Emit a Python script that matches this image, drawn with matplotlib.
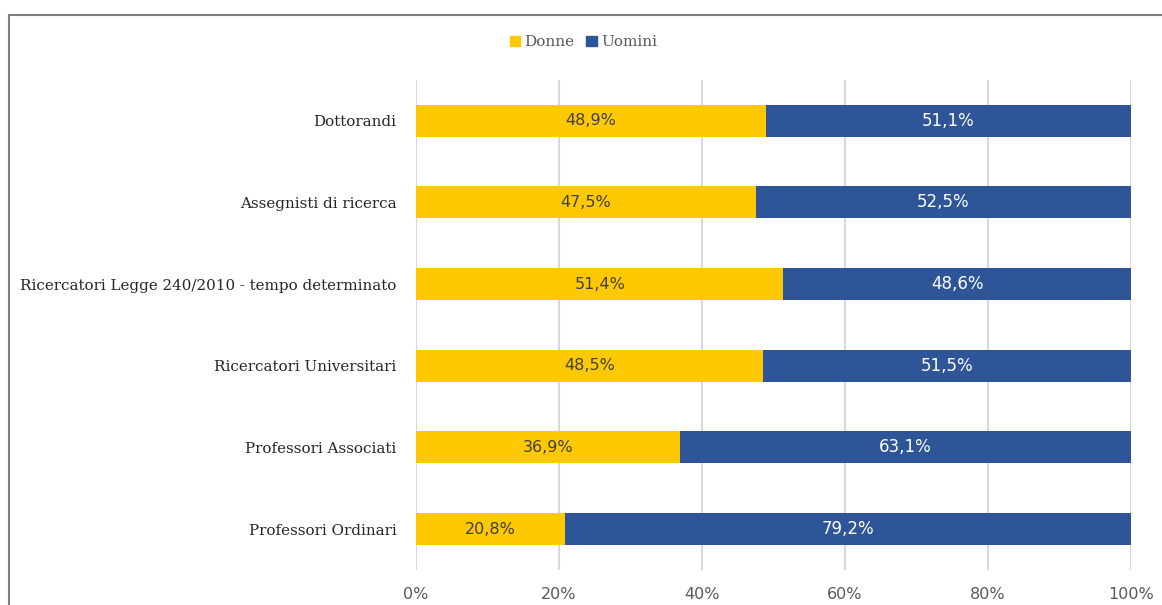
import matplotlib.pyplot as plt
from matplotlib.lines import Line2D
from matplotlib.patches import Patch

categories = [
    "Professori Ordinari",
    "Professori Associati",
    "Ricercatori Universitari",
    "Ricercatori Legge 240/2010 - tempo determinato",
    "Assegnisti di ricerca",
    "Dottorandi",
]
donne = [20.8, 36.9, 48.5, 51.4, 47.5, 48.9]
uomini = [79.2, 63.1, 51.5, 48.6, 52.5, 51.1]
ticks = [0, 20, 40, 60, 80, 100]

col_donne = "#FFC901"
col_uomini = "#2E5597"
text_col = "#404040"
serif = "DejaVu Serif"

fig = plt.figure(figsize=(11.62, 6.05), dpi=100)
ax = fig.add_axes([0.358, 0.058, 0.6153, 0.81])

y = range(len(categories))
bh = 0.39
ax.barh(y, donne, height=bh, color=col_donne, zorder=3)
ax.barh(y, uomini, left=donne, height=bh, color=col_uomini, zorder=3)

for i, (d, u) in enumerate(zip(donne, uomini)):
    ax.text(d / 2, i, f"{d:.1f}%".replace(".", ","), ha="center", va="center",
            color=text_col, fontsize=11.5, zorder=4)
    ax.text(d + u / 2, i, f"{u:.1f}%".replace(".", ","), ha="center", va="center",
            color="white", fontsize=12, zorder=4)

ax.set_xlim(0, 100)
ax.set_ylim(-0.5, len(categories) - 0.5)
ax.set_xticks(ticks)
ax.set_xticklabels([f"{t}%" for t in ticks], color="#595959", fontsize=11.5)
ax.set_yticks(list(y))
ax.set_yticklabels(categories, color="#262626", fontsize=10.9, family=serif)
ax.tick_params(axis="both", length=0)
ax.tick_params(axis="x", pad=12)
ax.tick_params(axis="y", pad=14)
ax.grid(axis="x", color="#D9D9D9", linewidth=1.5, zorder=0)
for s in ax.spines.values():
    s.set_visible(False)

handles = [Patch(color=col_donne, label="Donne"), Patch(color=col_uomini, label="Uomini")]
fig.legend(handles=handles, loc="center", bbox_to_anchor=(0.502, 0.93), ncol=2,
           frameon=False, handlelength=0.7, handleheight=0.7, handletextpad=0.25,
           columnspacing=0.8, prop={"family": serif, "size": 11}, labelcolor="#595959")

# chart frame
fig.add_artist(Line2D([0.008, 1.0], [1 - 15 / 605, 1 - 15 / 605], color="#7F7F7F", lw=1.5))
fig.add_artist(Line2D([0.008, 0.008], [0, 1 - 15 / 605], color="#7F7F7F", lw=1.5))

fig.savefig("out.png", dpi=100, facecolor="white")
